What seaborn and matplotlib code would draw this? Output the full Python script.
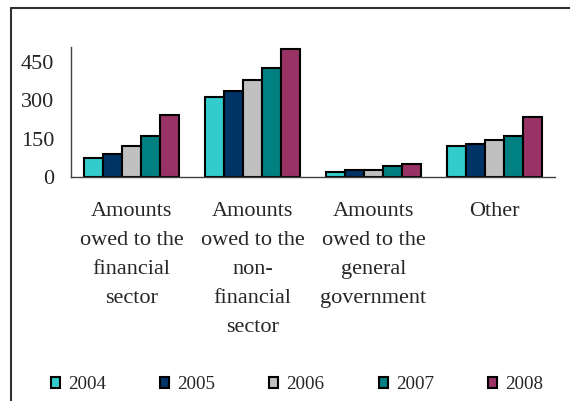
import seaborn as sns
import matplotlib.pyplot as plt
import pandas as pd
from matplotlib.lines import Line2D

categories = ["Amounts\nowed to the\nfinancial\nsector",
              "Amounts\nowed to the\nnon-\nfinancial\nsector",
              "Amounts\nowed to the\ngeneral\ngovernment",
              "Other"]
years = ["2004", "2005", "2006", "2007", "2008"]
v2004 = [74, 312, 20, 121]
v2005 = [90, 335, 29, 129]
v2006 = [121, 381, 27, 145]
v2007 = [159, 425, 44, 159]
v2008 = [243, 502, 52, 236]
yticks = [0, 150, 300, 450]

COLORS = ["#33CCCC", "#003366", "#C0C0C0", "#008080", "#993366"]

rows = []
for yr, vals in zip(years, [v2004, v2005, v2006, v2007, v2008]):
    for c, v in zip(categories, vals):
        rows.append({"category": c, "year": yr, "value": v})
df = pd.DataFrame(rows)

sns.set_style("white")
plt.rcParams['font.family'] = ['Liberation Serif', 'DejaVu Serif']

fig = plt.figure(figsize=(5.7, 4.01), dpi=100)
ax = fig.add_axes([0.1246, 0.5586, 0.8491, 0.3242])

sns.barplot(data=df, x="category", y="value", hue="year", palette=COLORS,
            width=0.78, edgecolor="black", linewidth=1.5, saturation=1,
            ax=ax)

ax.set_ylim(0, 509)
ax.set_xlim(-0.5, 3.5)
ax.set_yticks(yticks)
ax.set_yticklabels([str(t) for t in yticks], fontsize=16)
ax.set_xticks(range(4))
ax.set_xticklabels(categories, fontsize=16, linespacing=1.72, va="top")
ax.tick_params(axis="x", which="major", length=0, pad=18)
ax.set_xticks([-0.5, 0.5, 1.5, 2.5, 3.5], minor=True)
ax.tick_params(axis="x", which="minor", length=5, direction="out",
               color="#404040", width=1)
ax.tick_params(axis="y", length=5, direction="out", color="#404040",
               width=1, pad=7)
ax.set_xlabel("")
ax.set_ylabel("")
sns.despine(ax=ax, top=True, right=True)
for s in ["left", "bottom"]:
    ax.spines[s].set_color("#404040")
    ax.spines[s].set_linewidth(1)

handles, labels = ax.get_legend_handles_labels()
ax.legend_.remove()
fig.legend(handles, labels, loc="center", bbox_to_anchor=(0.521, 0.04),
           ncol=5, frameon=False, fontsize=13.7, handlelength=0.47,
           handleheight=0.47, handletextpad=0.42, columnspacing=2.85)

# outer frame
fig.add_artist(Line2D([0.019, 0.019], [0, 0.98], color="#303030", lw=1.5))
fig.add_artist(Line2D([0.019, 1.0], [0.98, 0.98], color="#303030", lw=1.5))

fig.savefig("out.png", dpi=100)
